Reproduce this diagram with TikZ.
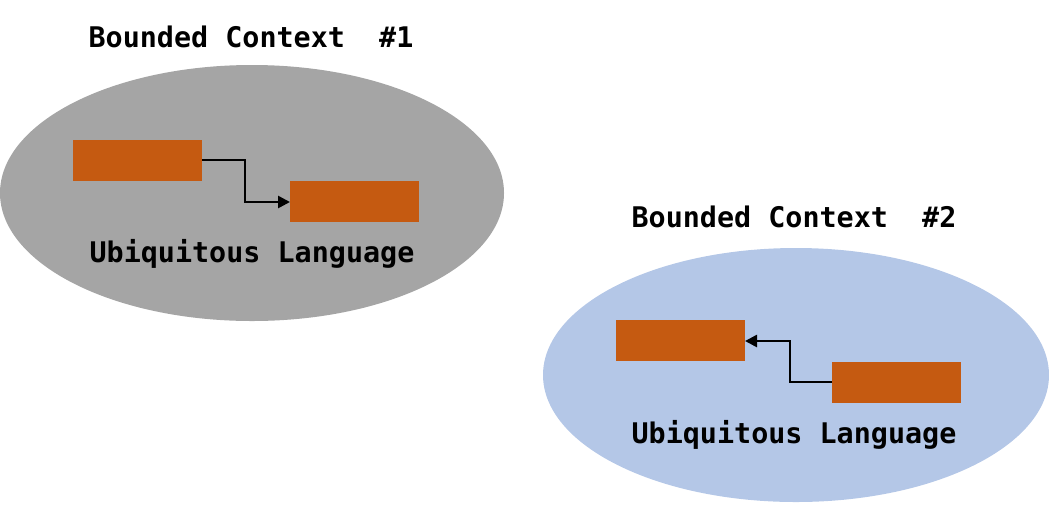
\documentclass[tikz,border=0pt]{standalone}
\usepackage{fontspec}
\setmonofont{DejaVu Sans Mono}
\usetikzlibrary{arrows.meta}
\definecolor{ctxgray}{HTML}{A5A5A5}
\definecolor{ctxblue}{HTML}{B4C7E7}
\definecolor{boxorange}{HTML}{C55A11}
\begin{document}
\begin{tikzpicture}[x=1pt,y=-1pt,
  obj/.style={fill=boxorange, draw=none},
  lbl/.style={font=\ttfamily\bfseries\fontsize{28.4}{32}\selectfont, anchor=base, inner sep=0pt},
  link/.style={line width=2.6pt, -{Triangle[length=12pt,width=12pt]}}]
\useasboundingbox (0,0) rectangle (1049,515);
\fill[ctxgray] (252,193) ellipse [x radius=252, y radius=128];
\fill[ctxblue] (796,375) ellipse [x radius=253, y radius=127];
\node[lbl] (t1) at (251,47) {Bounded Context\ \ \#1};
\node[lbl] (u1) at (252,262) {Ubiquitous Language};
\node[lbl] (t2) at (794,227) {Bounded Context\ \ \#2};
\node[lbl] (u2) at (794,443) {Ubiquitous Language};
\path[obj] (73,140) rectangle (202,181);
\path[obj] (290,181) rectangle (419,222);
\path[obj] (616,320) rectangle (745,361);
\path[obj] (832,362) rectangle (961,403);
\coordinate (a1) at (202,160);
\coordinate (b1) at (290,202);
\coordinate (a2) at (832,382);
\coordinate (b2) at (745,341);
\draw[link] (a1) -- (245,160) -- (245,202) -- (b1);
\draw[link] (a2) -- (790,382) -- (790,341) -- (b2);
\end{tikzpicture}
\end{document}
